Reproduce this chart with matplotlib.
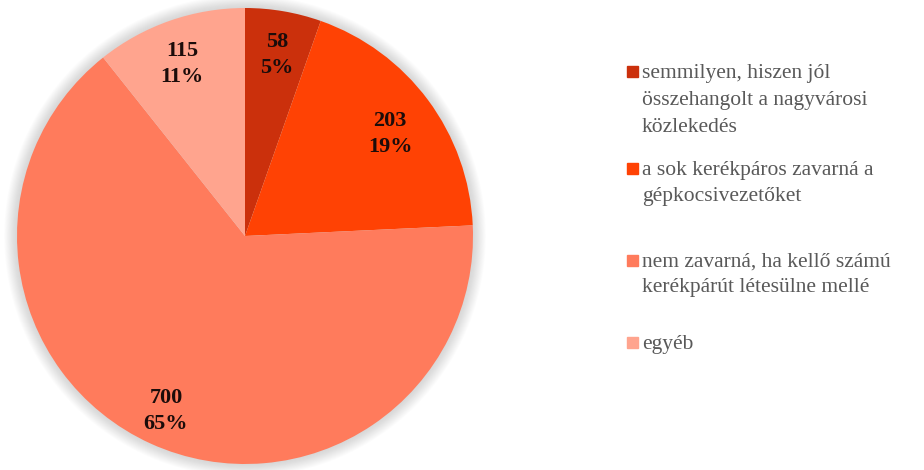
import matplotlib as mpl
mpl.use('Agg')
import matplotlib.pyplot as plt
from matplotlib.patches import Circle, Rectangle

# válaszok száma kategóriánként
labels = ['semmilyen, hiszen jól\nösszehangolt a nagyvárosi\nközlekedés',
          'a sok kerékpáros zavarná a\ngépkocsivezetőket',
          'nem zavarná, ha kellő számú\nkerékpárút létesülne mellé',
          'egyéb']
counts = [58, 203, 700, 115]
colors = ['#CB300C', '#FF4204', '#FF7B5C', '#FFA48E']

W, H = 924, 470
fig = plt.figure(figsize=(W / 100, H / 100), dpi=100)
fig.patch.set_facecolor('white')

cx, cy, r = 245, 236, 228
ax = fig.add_axes([(cx - r) / W, (H - cy - r) / H, 2 * r / W, 2 * r / H])

total = sum(counts)
wedges, texts = ax.pie(counts, colors=colors, startangle=90, counterclock=False,
                       radius=1.0, wedgeprops=dict(linewidth=0))

# halvány árnyék a kör körül
for i in range(14):
    ax.add_patch(Circle((0, 0), 1.0 + 0.004 * (i + 1), color='#8a8a8a',
                        alpha=0.025, lw=0, zorder=0, clip_on=False))

ax.set_xlim(-1, 1)
ax.set_ylim(-1, 1)
ax.set_aspect('equal')
ax.axis('off')

# címkék: érték és százalék
label_pos = [(277, 55), (390, 134), (166, 411), (182, 64)]
for (px, py), c in zip(label_pos, counts):
    pct = round(c / total * 100)
    fig.text(px / W, 1 - py / H, '%d\n%d%%' % (c, pct), ha='center', va='center',
             fontsize=16, fontweight='bold', family='Liberation Serif',
             color='#1c0c0a', linespacing=1.45)

# jelmagyarázat, soronként elhelyezve
baselines = [[78, 105, 132], [175, 201], [267, 292], [349]]
for bl, lab, col in zip(baselines, labels, colors):
    fig.patches.append(Rectangle((627 / W, 1 - (bl[0] - 1) / H), 11 / W, 11 / H,
                                 transform=fig.transFigure, color=col, figure=fig))
    for y, line in zip(bl, lab.split('\n')):
        fig.text(642 / W, 1 - y / H, line, ha='left', va='baseline',
                 fontsize=15.5, family='Liberation Serif', color='#595959')

plt.savefig('out.png', dpi=100)
